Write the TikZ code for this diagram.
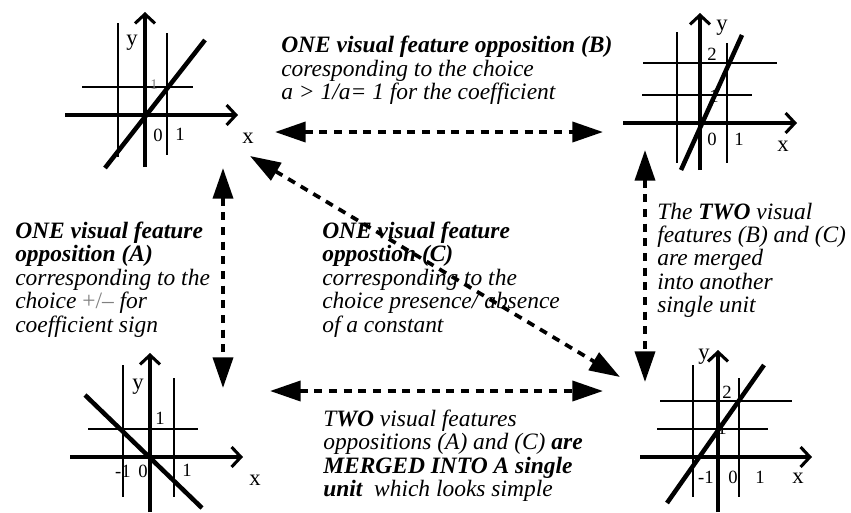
\documentclass[tikz,border=0pt]{standalone}
\usepackage{fontspec}
\setmainfont{Liberation Serif}
\usetikzlibrary{arrows.meta}

\begin{document}
\begin{tikzpicture}[x=0.75pt, y=-0.75pt]
        \tikzstyle{note} = [anchor=north west, align=left, inner sep=0pt, font=\fontsize{17.6}{17.6}\selectfont\itshape]
        \tikzstyle{axis} = [line width=2.3pt, -{Straight Barb[length=7pt, width=15pt]}]
        \tikzstyle{grid} = [line width=1.8pt]
        \tikzstyle{curve} = [line width=3.4pt]
        \tikzstyle{lbl} = [inner sep=0pt, font=\fontsize{17}{17}\selectfont]
        \tikzstyle{num} = [inner sep=0pt, font=\fontsize{14}{14}\selectfont]
        \tikzstyle{link} = [line width=2.8pt, dash pattern=on 6pt off 5pt, {Triangle[length=23pt, width=15pt]}-{Triangle[length=23pt, width=15pt]}]

        \useasboundingbox (0,0) rectangle (851,512);

        % y = x (top left)
        \draw[grid] (118,23) -- (118,157);
        \draw[grid] (167,33) -- (167,155);
        \draw[grid] (82,87) -- (193,87);
        \draw[axis] (65,115) -- (238,115);
        \draw[axis] (145,167) -- (145,12);
        \draw[curve] (105,168) -- (205,40);
        \node[lbl] (ya) at (132,43) {y};
        \node[lbl] (xa) at (248,138) {x};
        \node[num, gray, font=\fontsize{11}{11}\selectfont] (onea) at (154,85) {1};
        \node[num] (zeroa) at (158,135) {0};
        \node[num] (unita) at (180,134) {1};

        % y = 2x (top right)
        \draw[grid] (677,32) -- (677,163);
        \draw[grid] (727,43) -- (727,163);
        \draw[grid] (643,63) -- (777,63);
        \draw[grid] (642,95) -- (752,95);
        \draw[axis] (623,123) -- (797,123);
        \draw[axis] (700,170) -- (700,13);
        \draw[curve] (681,170) -- (742,35);
        \node[lbl] (yb) at (722,28) {y};
        \node[lbl] (xb) at (783,146) {x};
        \node[num] (twob) at (712,54) {2};
        \node[num] (oneb) at (714,96) {1};
        \node[num] (zerob) at (712,139) {0};
        \node[num] (unitb) at (739,139) {1};

        % y = -x (bottom left)
        \draw[grid] (123,365) -- (123,497);
        \draw[grid] (174,378) -- (174,497);
        \draw[grid] (88,429) -- (198,429);
        \draw[axis] (70,457) -- (243,457);
        \draw[axis] (150,512) -- (150,353);
        \draw[curve] (85,395) -- (202,508);
        \node[lbl] (yc) at (138,387) {y};
        \node[lbl] (xc) at (255,480) {x};
        \node[num] (onec) at (160,418) {1};
        \node[num] (minusc) at (123,471) {-1};
        \node[num] (zeroc) at (143,471) {0};
        \node[num] (unitc) at (187,470) {1};

        % y = x + 1 (bottom right)
        \draw[grid] (693,365) -- (693,497);
        \draw[grid] (739,378) -- (739,497);
        \draw[grid] (660,401) -- (792,401);
        \draw[grid] (657,429) -- (768,429);
        \draw[axis] (640,457) -- (812,457);
        \draw[axis] (718,512) -- (718,350);
        \draw[curve] (667,503) -- (764,365);
        \node[lbl] (yd) at (704,357) {y};
        \node[lbl] (xd) at (798,478) {x};
        \node[num] (twod) at (727,392) {2};
        \node[num] (oned) at (722,428) {1};
        \node[num] (minusd) at (706,477) {-1};
        \node[num] (zerod) at (733,477) {0};
        \node[num] (unitd) at (760,477) {1};

        % texts
        \node[note] (featB) at (281,36) {\textbf{ONE visual feature opposition (B)}\\coresponding to the choice\\a > 1/a= 1 for the coefficient};
        \node[note] (featA) at (15,221.5) {\textbf{ONE visual feature}\\\textbf{opposition (A)}\\corresponding to the\\choice {\upshape\color{gray}+/–} for\\coefficient sign};
        \node[note] (featC) at (322,221.5) {\textbf{ONE visual feature}\\\textbf{oppostion (C)}\\corresponding to the\\choice presence/ absence\\of a constant};
        \node[note] (featBC) at (657,202.5) {The \textbf{TWO} visual\\features (B) and (C)\\are merged\\into another\\single unit};
        \node[note] (featAC) at (323,409.5) {T\textbf{WO} visual features\\oppositions (A) and (C) \textbf{are}\\\textbf{MERGED INTO A single}\\\textbf{unit}\ \ which looks simple};

        % connectors
        \coordinate (topL) at (275,132);
        \coordinate (topR) at (603,132);
        \coordinate (botL) at (270,391);
        \coordinate (botR) at (603,391);
        \coordinate (leftT) at (223,168);
        \coordinate (leftB) at (223,388);
        \coordinate (rightT) at (645,150);
        \coordinate (rightB) at (645,382);
        \coordinate (diagT) at (250,156);
        \coordinate (diagB) at (620,377);

        \draw[link] (topL) -- (topR);
        \draw[link] (botL) -- (botR);
        \draw[link] (leftT) -- (leftB);
        \draw[link] (rightT) -- (rightB);
        \draw[link] (diagT) -- (diagB);
    \end{tikzpicture}
\end{document}
